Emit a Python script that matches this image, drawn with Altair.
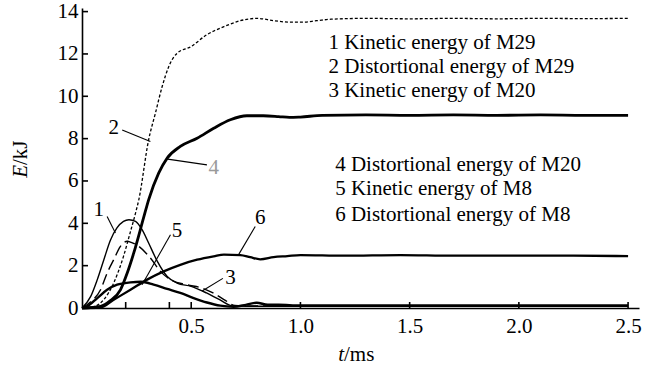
import altair as alt
import pandas as pd

# ---- data (t in ms, E in kJ) ----
t1 = [0, 0.04, 0.07, 0.10, 0.13, 0.16, 0.19, 0.215, 0.245, 0.275, 0.305, 0.345, 0.39, 0.435, 0.50, 0.57, 0.63, 0.69, 0.75, 1.0, 1.5, 2.0, 2.5]
e1 = [0, 0.55, 1.34, 2.28, 3.2, 3.78, 4.09, 4.17, 4.09, 3.7, 3.07, 2.2, 1.49, 1.18, 1.02, 0.71, 0.39, 0.1, 0.08, 0.08, 0.08, 0.08, 0.08]

t2 = [0, 0.05, 0.10, 0.145, 0.19, 0.22, 0.245, 0.26, 0.305, 0.336, 0.367, 0.397, 0.435, 0.50, 0.57, 0.65, 0.725, 0.80, 0.88, 0.95, 1.01, 1.075, 1.14, 1.3, 1.5, 1.7, 1.9, 2.1, 2.3, 2.5]
e2 = [0, 0.05, 0.4, 1.18, 2.44, 3.54, 4.48, 5.11, 7.94, 9.2, 10.46, 11.4, 12.03, 12.35, 12.9, 13.29, 13.57, 13.68, 13.57, 13.5, 13.5, 13.57, 13.64, 13.68, 13.66, 13.68, 13.66, 13.68, 13.67, 13.68]

t3 = [0, 0.04, 0.085, 0.115, 0.145, 0.176, 0.207, 0.225, 0.26, 0.313, 0.359, 0.405, 0.48, 0.55, 0.60, 0.65, 0.70, 0.75, 1.0, 1.5, 2.0, 2.5]
e3 = [0, 0.3, 0.86, 1.65, 2.28, 2.91, 3.15, 3.1, 2.91, 2.36, 1.73, 1.34, 1.1, 0.94, 0.71, 0.4, 0.12, 0.1, 0.1, 0.1, 0.1, 0.1]

t4 = [0, 0.085, 0.13, 0.176, 0.207, 0.237, 0.283, 0.305, 0.351, 0.39, 0.45, 0.527, 0.603, 0.679, 0.755, 0.83, 0.9, 0.95, 1.0, 1.1, 1.3, 1.5, 1.7, 1.9, 2.1, 2.3, 2.5]
e4 = [0, 0.08, 0.35, 0.86, 1.65, 2.6, 4.3, 5.11, 6.37, 7.08, 7.63, 8.02, 8.49, 8.89, 9.08, 9.08, 9.04, 9.0, 9.02, 9.1, 9.12, 9.1, 9.12, 9.1, 9.12, 9.1, 9.1]

t5 = [0, 0.024, 0.07, 0.115, 0.161, 0.222, 0.27, 0.328, 0.39, 0.45, 0.511, 0.572, 0.633, 0.694, 0.75, 0.8, 0.85, 0.9, 1.0, 1.25, 1.5, 1.75, 2.0, 2.25, 2.5]
e5 = [0, 0.08, 0.47, 0.86, 1.1, 1.21, 1.24, 1.1, 0.9, 0.71, 0.47, 0.26, 0.11, 0.06, 0.15, 0.25, 0.15, 0.15, 0.12, 0.12, 0.12, 0.12, 0.12, 0.12, 0.12]

t6 = [0, 0.085, 0.145, 0.222, 0.298, 0.374, 0.45, 0.527, 0.603, 0.65, 0.725, 0.77, 0.816, 0.877, 0.94, 1.0, 1.2, 1.457, 1.7, 2.0, 2.25, 2.5]
e6 = [0, 0.02, 0.39, 0.86, 1.34, 1.73, 2.04, 2.28, 2.44, 2.52, 2.5, 2.4, 2.3, 2.4, 2.45, 2.5, 2.47, 2.5, 2.47, 2.47, 2.47, 2.45]

# curve number labels and their leader lines
lab_text = ["1", "2", "3", "4", "5", "6"]
lab_t = [0.077, 0.145, 0.68, 0.603, 0.435, 0.816]
lab_e = [4.64, 8.49, 1.42, 6.6, 3.62, 4.25]
lead_t1 = [0.115, 0.184, 0.645, 0.572, 0.405, 0.793]
lead_e1 = [4.32, 8.41, 1.40, 6.76, 3.46, 3.85]
lead_t2 = [0.153, 0.313, 0.55, 0.392, 0.275, 0.717]
lead_e2 = [3.54, 7.86, 0.80, 7.03, 1.10, 2.52]

# in-plot key
key_text = ["1 Kinetic energy of M29", "2 Distortional energy of M29", "3 Kinetic energy of M20",
            "4 Distortional energy of M20", "5 Kinetic energy of M8", "6 Distortional energy of M8"]
key_t = [1.128, 1.128, 1.128, 1.159, 1.159, 1.159]
key_e = [12.52, 11.39, 10.26, 6.76, 5.62, 4.40]

y_ticks = [0, 2, 4, 6, 8, 10, 12, 14]
x_ticks = [0.2, 0.4, 0.5, 1.0, 1.5, 2.0, 2.5]
x_labels = [0.5, 1.0, 1.5, 2.0, 2.5]

FONT = "Liberation Serif"
W, H = 557, 300

xscale = alt.Scale(domain=[0, 2.55], nice=False, zero=False)
yscale = alt.Scale(domain=[0, 14.17], nice=False, zero=False)
xaxis = alt.Axis(values=x_labels, format=".1f", title=None, ticks=False, grid=False,
                 labelPadding=7, domainColor="black", domainWidth=1.6,
                 labelFont=FONT, labelFontSize=21, labelColor="black")
yaxis = alt.Axis(values=y_ticks, format="d", title=None, ticks=False, grid=False,
                 labelPadding=4, domainColor="black", domainWidth=1.6,
                 labelFont=FONT, labelFontSize=21, labelColor="black")

def X(f):
    return alt.X(f, type="quantitative", scale=xscale, axis=xaxis)

def Y(f):
    return alt.Y(f, type="quantitative", scale=yscale, axis=yaxis)

styles = {
    "1": dict(strokeWidth=1.4),
    "2": dict(strokeWidth=1.3, strokeDash=[3, 2]),
    "3": dict(strokeWidth=1.4, strokeDash=[11, 5]),
    "4": dict(strokeWidth=2.8),
    "5": dict(strokeWidth=2.4),
    "6": dict(strokeWidth=2.3),
}
series = {"1": (t1, e1), "2": (t2, e2), "3": (t3, e3), "4": (t4, e4), "5": (t5, e5), "6": (t6, e6)}

layers = []
for k, (tt, ee) in series.items():
    df = pd.DataFrame({"t": tt, "E": ee})
    layers.append(
        alt.Chart(df).mark_line(color="black", interpolate="monotone", **styles[k]).encode(x=X("t"), y=Y("E"))
    )

lead_df = pd.DataFrame({"t": lead_t1, "E": lead_e1, "t2": lead_t2, "E2": lead_e2})
layers.append(alt.Chart(lead_df).mark_rule(color="black", strokeWidth=1.1).encode(
    x=X("t"), y=Y("E"), x2="t2", y2="E2"))

lab_df = pd.DataFrame({"t": lab_t, "E": lab_e, "txt": lab_text})
lab_df["col"] = ["black", "black", "black", "#9a9a9a", "black", "black"]
layers.append(alt.Chart(lab_df).mark_text(font=FONT, fontSize=21, align="center", baseline="middle").encode(
    x=X("t"), y=Y("E"), text="txt", color=alt.Color("col:N", scale=None)))

key_df = pd.DataFrame({"t": key_t, "E": key_e, "txt": key_text})
layers.append(alt.Chart(key_df).mark_text(font=FONT, fontSize=21, align="left", baseline="middle", color="black").encode(
    x=X("t"), y=Y("E"), text="txt"))

# inward tick marks
yt_df = pd.DataFrame({"v": y_ticks})
layers.append(alt.Chart(yt_df).mark_rule(color="black", strokeWidth=1.6).encode(
    y=Y("v"), x=alt.value(0), x2=alt.value(6)))
xt_df = pd.DataFrame({"v": x_ticks})
layers.append(alt.Chart(xt_df).mark_rule(color="black", strokeWidth=1.6).encode(
    x=X("v"), y=alt.value(H), y2=alt.value(H - 6)))

# axis titles with italic variable letters
one = pd.DataFrame({"a": [0]})
layers.append(alt.Chart(one).mark_text(text="t", font=FONT, fontSize=21, fontStyle="italic",
                                       align="right", baseline="middle", color="black").encode(
    x=alt.value(262), y=alt.value(347)))
layers.append(alt.Chart(one).mark_text(text="/ms", font=FONT, fontSize=21,
                                       align="left", baseline="middle", color="black").encode(
    x=alt.value(262), y=alt.value(347)))
layers.append(alt.Chart(one).mark_text(text="E", font=FONT, fontSize=21, fontStyle="italic", angle=270,
                                       align="right", baseline="middle", color="black").encode(
    x=alt.value(-61), y=alt.value(157)))
layers.append(alt.Chart(one).mark_text(text="/kJ", font=FONT, fontSize=21, angle=270,
                                       align="left", baseline="middle", color="black").encode(
    x=alt.value(-61), y=alt.value(157)))

chart = alt.layer(*layers).properties(
    width=W, height=H,
    autosize=alt.AutoSizeParams(type="none"),
    padding={"left": 82, "top": 8, "right": 20, "bottom": 61},
    background="white",
).configure_view(stroke=None)

chart.save("out.html", embed_options={"renderer": "svg", "actions": False})
